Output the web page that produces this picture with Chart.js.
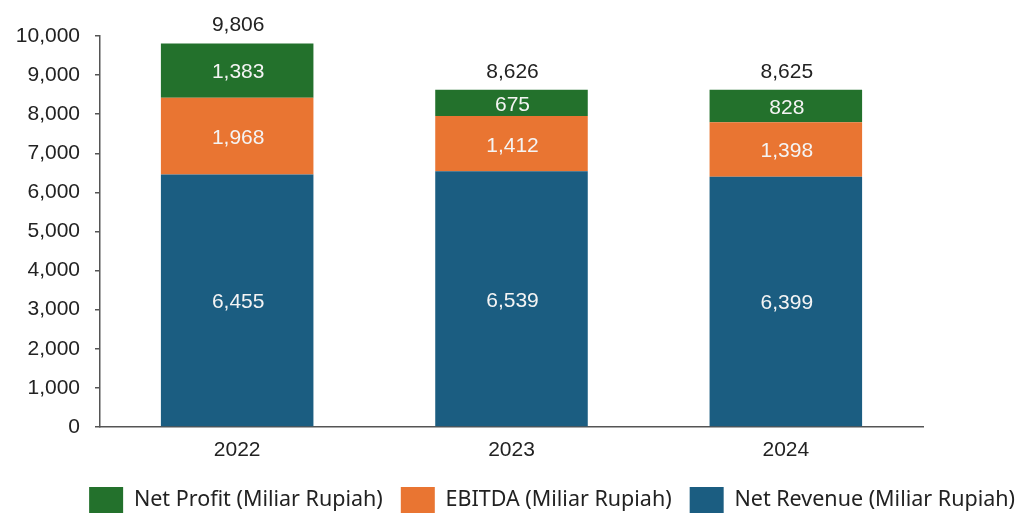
<!DOCTYPE html>
<html lang="en">
<head>
<meta charset="UTF-8">
<title>Net Revenue, EBITDA, Net Profit</title>
<script src="https://cdn.jsdelivr.net/npm/chart.js"></script>
<style>
  html, body { margin: 0; padding: 0; background: #fff; }
  #wrap { width: 1018px; height: 516px; }
</style>
</head>
<body>
<div id="wrap"><canvas id="chart" width="1018" height="516"></canvas></div>
<script>
const years = ['2022', '2023', '2024'];
const netRevenue = [6455, 6539, 6399];
const ebitda = [1968, 1412, 1398];
const netProfit = [1383, 675, 828];
const totals = [9806, 8626, 8625];

const fmt = v => v.toLocaleString('en-US');
const numFamily = '"Liberation Sans", Arial, sans-serif';
const numFont = '21px ' + numFamily;

// labels inside each segment and the total above each stack
const barLabels = {
    id: 'barLabels',
    afterDatasetsDraw(chart) {
        const ctx = chart.ctx;
        ctx.save();
        ctx.font = numFont;
        ctx.textAlign = 'center';
        ctx.textBaseline = 'middle';
        chart.data.datasets.forEach((ds, i) => {
            const meta = chart.getDatasetMeta(i);
            meta.data.forEach((bar, j) => {
                ctx.fillStyle = '#f4f4f4';
                ctx.fillText(fmt(ds.data[j]), bar.x + 1, (bar.y + bar.base) / 2 + 2);
            });
        });
        const top = chart.getDatasetMeta(chart.data.datasets.length - 1);
        top.data.forEach((bar, j) => {
            ctx.fillStyle = '#222';
            ctx.fillText(fmt(totals[j]), bar.x + 1, bar.y - 18);
        });
        ctx.restore();
    }
};

new Chart(document.getElementById('chart'), {
    type: 'bar',
    data: {
        labels: years,
        datasets: [
            { label: 'Net Revenue (Miliar Rupiah)', data: netRevenue, backgroundColor: '#1b5d81' },
            { label: 'EBITDA (Miliar Rupiah)', data: ebitda, backgroundColor: '#e97532' },
            { label: 'Net Profit (Miliar Rupiah)', data: netProfit, backgroundColor: '#23712c' }
        ]
    },
    options: {
        responsive: false,
        animation: false,
        layout: { padding: { left: 0, right: -15, top: 36, bottom: -7 } },
        datasets: { bar: { categoryPercentage: 1, barPercentage: 0.556 } },
        plugins: {
            legend: {
                position: 'bottom',
                align: 'end',
                reverse: true,
                labels: {
                    boxWidth: 34,
                    boxHeight: 26,
                    padding: 18,
                    color: '#222',
                    font: { size: 21.5, family: '"Noto Sans", sans-serif' }
                }
            },
            tooltip: { enabled: false }
        },
        scales: {
            x: {
                stacked: true,
                afterFit(scale) { scale.height = 42; },
                grid: { display: false, drawTicks: false },
                border: { display: true, color: '#555', width: 1.5 },
                ticks: { color: '#222', padding: 11, font: { size: 21, family: numFamily } }
            },
            y: {
                stacked: true,
                min: 0,
                max: 10000,
                afterFit(scale) { scale.width = 100; },
                grid: { drawOnChartArea: false, tickLength: 5, color: '#555', lineWidth: 1.5 },
                border: { display: true, color: '#555', width: 1.5 },
                ticks: {
                    stepSize: 1000,
                    color: '#222',
                    padding: 15,
                    font: { size: 21, family: numFamily },
                    callback: v => fmt(v)
                }
            },
            spacer: {
                type: 'linear',
                position: 'right',
                display: true,
                afterFit(scale) { scale.width = 110; },
                grid: { display: false },
                border: { display: false },
                ticks: { display: false }
            }
        }
    },
    plugins: [barLabels]
});
</script>
</body>
</html>
